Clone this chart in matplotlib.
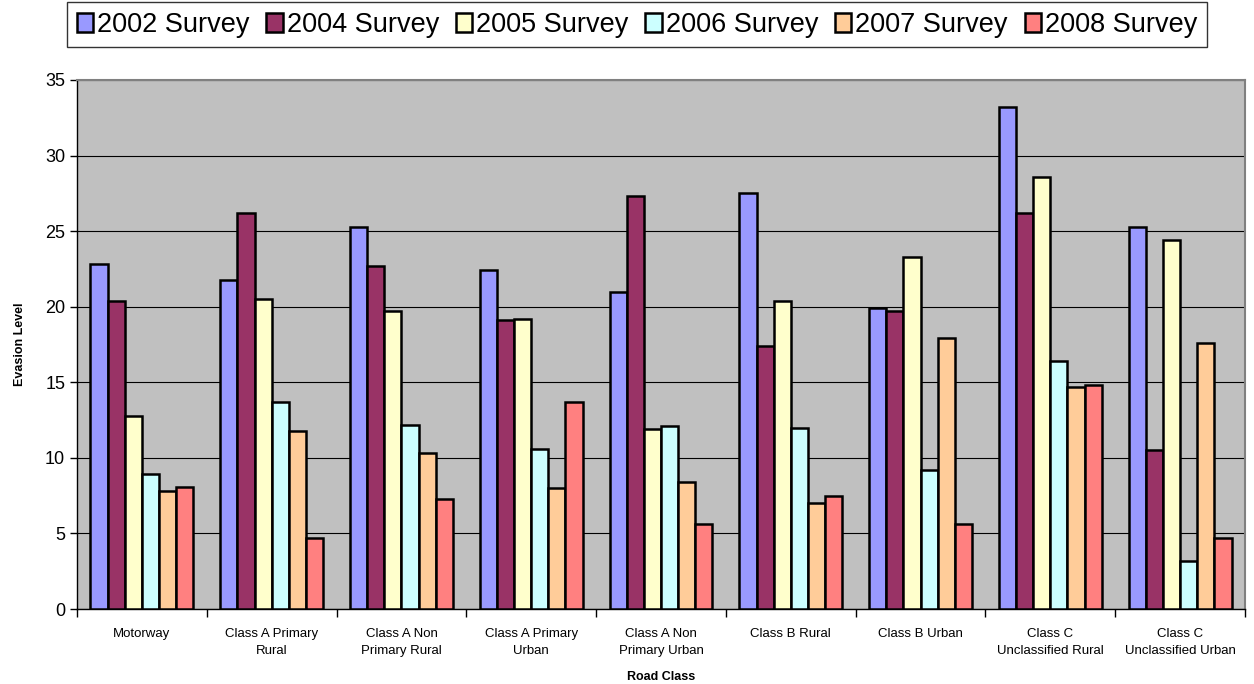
import numpy as np
import matplotlib.pyplot as plt

# road classes and survey results (evasion level)
road_classes = ["Motorway", "Class A Primary\nRural", "Class A Non\nPrimary Rural",
                "Class A Primary\nUrban", "Class A Non\nPrimary Urban", "Class B Rural",
                "Class B Urban", "Class C\nUnclassified Rural", "Class C\nUnclassified Urban"]
surveys = ["2002 Survey", "2004 Survey", "2005 Survey", "2006 Survey", "2007 Survey", "2008 Survey"]

s2002 = [22.8, 21.8, 25.3, 22.4, 21.0, 27.5, 19.9, 33.2, 25.3]
s2004 = [20.4, 26.2, 22.7, 19.1, 27.3, 17.4, 19.7, 26.2, 10.5]
s2005 = [12.8, 20.5, 19.7, 19.2, 11.9, 20.4, 23.3, 28.6, 24.4]
s2006 = [8.9, 13.7, 12.2, 10.6, 12.1, 12.0, 9.2, 16.4, 3.2]
s2007 = [7.8, 11.8, 10.3, 8.0, 8.4, 7.0, 17.9, 14.7, 17.6]
s2008 = [8.1, 4.7, 7.3, 13.7, 5.6, 7.5, 5.6, 14.8, 4.7]

colors = ["#9999FF", "#993366", "#FFFFCC", "#CCFFFF", "#FFCC99", "#FF8080"]

plt.rcParams['font.family'] = ['Liberation Sans', 'DejaVu Sans']

fig = plt.figure(figsize=(12.54, 6.84), dpi=100)
ax = fig.add_axes([77/1254, 1 - 609/684, (1245-77)/1254, (609-80)/684])
ax.set_facecolor("#C0C0C0")

x = np.arange(len(road_classes))
w = 0.132
series = [s2002, s2004, s2005, s2006, s2007, s2008]
for i, (vals, name, c) in enumerate(zip(series, surveys, colors)):
    ax.bar(x + (i - 2.5) * w, vals, width=w, color=c, edgecolor="black",
           linewidth=1.8, label=name, zorder=3)

ax.set_xlim(-0.5, len(road_classes) - 0.5)
ax.set_ylim(0, 35)
ax.set_yticks(range(0, 36, 5))
ax.yaxis.grid(True, color="black", linewidth=0.8, zorder=1)
ax.tick_params(axis="y", labelsize=13, direction="out", length=5, width=1)

# boundaries get the tick marks, centres get the labels
ax.set_xticks(np.arange(-0.5, len(road_classes), 1))
ax.set_xticklabels([])
ax.set_xticks(x, minor=True)
ax.set_xticklabels(road_classes, minor=True, fontsize=9.5, linespacing=1.5)
ax.tick_params(axis="x", which="major", direction="out", length=6, width=1)
ax.tick_params(axis="x", which="minor", length=0, pad=14)

for side in ["top", "right"]:
    ax.spines[side].set_color("#808080")
    ax.spines[side].set_linewidth(1.5)
for side in ["left", "bottom"]:
    ax.spines[side].set_color("black")
    ax.spines[side].set_linewidth(1)

ax.set_ylabel("Evasion Level", fontsize=9, fontweight="bold", labelpad=14)
ax.set_xlabel("Road Class", fontsize=9, fontweight="bold", labelpad=10)

leg = fig.legend(loc="center", bbox_to_anchor=(0.508, 0.9635), ncol=6, fontsize=19.5,
                 frameon=True, fancybox=False, edgecolor="black",
                 handlelength=0.6, handleheight=0.7, handletextpad=0.15,
                 columnspacing=0.62, borderpad=0.35)
leg.get_frame().set_linewidth(1)

fig.savefig("out.png", dpi=100)
